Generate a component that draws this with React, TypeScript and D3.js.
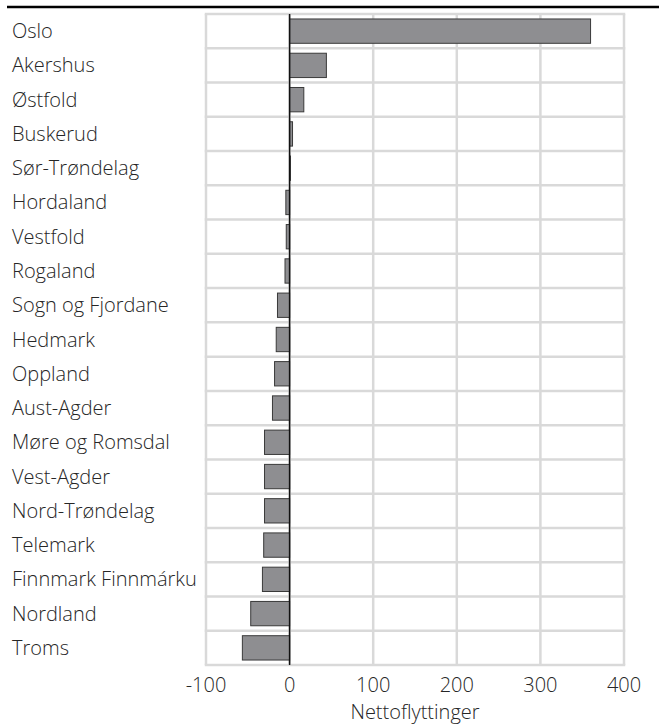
import React from "react";
import * as d3 from "d3";

const regions = [
  "Oslo", "Akershus", "Østfold", "Buskerud", "Sør-Trøndelag", "Hordaland",
  "Vestfold", "Rogaland", "Sogn og Fjordane", "Hedmark", "Oppland", "Aust-Agder",
  "Møre og Romsdal", "Vest-Agder", "Nord-Trøndelag", "Telemark",
  "Finnmark Finnmárku", "Nordland", "Troms",
];
const netMoves = [
  360, 44, 17, 3.5, 1, -4.5, -4, -5.5, -14.5, -16, -18, -20.5,
  -30, -30, -30, -31, -32.5, -46.5, -56.5,
];
const xTicks = [-100, 0, 100, 200, 300, 400];
const xTitle = "Nettoflyttinger";

const W = 659;
const H = 724;
const margin = { top: 14, right: 35, bottom: 59, left: 206 };
const font = "'Open Sans', 'Noto Sans', sans-serif";
const fs = 20;

export default function App() {
  const x = d3.scaleLinear().domain([-100, 400]).range([margin.left, W - margin.right]);
  const y = d3.scaleBand<string>().domain(regions).range([margin.top, H - margin.bottom]).paddingInner(0.29).paddingOuter(0.145);
  const step = y.step();
  const rowEdges = d3.range(regions.length + 1).map(i => margin.top + i * step);

  return (
    <svg width={W} height={H} style={{ position: "absolute", left: 0, top: 0, background: "#fff" }}>
      <line x1={7} x2={W} y1={7} y2={7} stroke="#000" strokeWidth={2.5} />
      {/* grid */}
      {xTicks.map(t => (
        <line key={"v" + t} x1={x(t)} x2={x(t)} y1={margin.top} y2={H - margin.bottom} stroke="#d9d9d9" strokeWidth={2.5} />
      ))}
      {rowEdges.map((e, i) => (
        <line key={"h" + i} x1={margin.left - 1.25} x2={W - margin.right + 1.25} y1={e} y2={e} stroke="#d9d9d9" strokeWidth={2.5} />
      ))}
      {/* bars */}
      {regions.map((r, i) => {
        const v = netMoves[i];
        return (
          <rect key={r} x={Math.min(x(0), x(v))} y={y(r)} width={Math.abs(x(v) - x(0))} height={y.bandwidth()}
            fill="#8e8e91" stroke="#3a3a3a" strokeWidth={1} />
        );
      })}
      <line x1={x(0)} x2={x(0)} y1={margin.top} y2={H - margin.bottom} stroke="#111" strokeWidth={1.5} />
      {/* labels */}
      {regions.map(r => (
        <text key={"l" + r} x={12} y={y(r)! + y.bandwidth() / 2} dy="0.35em" fontFamily={font} fontSize={fs} fontWeight={300} fill="#262626">{r}</text>
      ))}
      {xTicks.map(t => (
        <text key={"t" + t} x={x(t)} y={692} textAnchor="middle" fontFamily={font} fontSize={fs} fontWeight={300} fill="#262626">{t}</text>
      ))}
      <text x={(x(-100) + x(400)) / 2} y={719} textAnchor="middle" fontFamily={font} fontSize={fs} fontWeight={300} fill="#262626">{xTitle}</text>
    </svg>
  );
}
